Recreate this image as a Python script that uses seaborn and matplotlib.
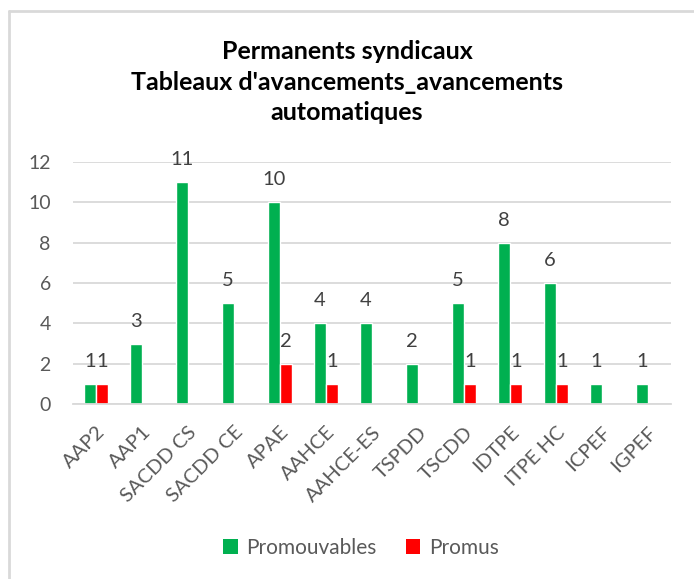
import pandas as pd
import numpy as np

import matplotlib
matplotlib.use("Agg")
import matplotlib.pyplot as plt
from matplotlib.lines import Line2D
from matplotlib.patches import Patch

import seaborn as sns

# data
grades = ["AAP2", "AAP1", "SACDD CS", "SACDD CE", "APAE", "AAHCE", "AAHCE-ES",
          "TSPDD", "TSCDD", "IDTPE", "ITPE HC", "ICPEF", "IGPEF"]
promouvables = [1, 3, 11, 5, 10, 4, 4, 2, 5, 8, 6, 1, 1]
promus = [1, 0, 0, 0, 2, 1, 0, 0, 1, 1, 1, 0, 0]
series = ["Promouvables", "Promus"]
colors = ["#00B050", "#FF0000"]

df = pd.DataFrame({
    "grade": grades * 2,
    "n": promouvables + promus,
    "serie": [series[0]] * len(grades) + [series[1]] * len(grades),
})

sns.set_style("white")
plt.rcParams["font.family"] = ["Lato", "DejaVu Sans"]

fig = plt.figure(figsize=(6.94, 5.79), dpi=100)
ax = fig.add_axes([73 / 694, 1 - 404 / 579, 598 / 694, 242 / 579])

sns.barplot(data=df, x="grade", y="n", hue="serie", palette=colors,
            width=0.52, gap=0.06, saturation=1, legend=False, ax=ax)

# value labels, zeros left out like in the original
for container, vals in zip(ax.containers, [promouvables, promus]):
    labels = ["" if v == 0 else str(v) for v in vals]
    ax.bar_label(container, labels=labels, padding=10, fontsize=14.5,
                 color="#404040", clip_on=False)

ax.set_xlim(-0.5, len(grades) - 0.5)
ax.set_ylim(0, 12)
ax.set_yticks(range(0, 13, 2))
ax.yaxis.grid(True, color="#d9d9d9", linewidth=1.3)
ax.set_axisbelow(True)
for side in ["left", "right", "top"]:
    ax.spines[side].set_visible(False)
ax.spines["bottom"].set_color("#d9d9d9")
ax.spines["bottom"].set_linewidth(1.3)
ax.set_xlabel("")
ax.set_ylabel("")
ax.tick_params(axis="y", length=0, pad=16, labelsize=14, labelcolor="#595959")
ax.tick_params(axis="x", length=0, pad=14, labelsize=14.5, labelcolor="#595959")
plt.setp(ax.get_xticklabels(), rotation=45, ha="right", rotation_mode="anchor")

fig.text(0.5, 1 - 82 / 579,
         "Permanents syndicaux\nTableaux d'avancements_avancements\nautomatiques",
         ha="center", va="center", fontsize=18, fontweight="bold",
         linespacing=1.38, color="black")

handles = [Patch(facecolor=c, edgecolor="none") for c in colors]
fig.legend(handles, series, loc="center", bbox_to_anchor=(0.52, 1 - 548 / 579),
           ncol=2, frameon=False, fontsize=15, handlelength=0.7,
           handleheight=0.7, handletextpad=0.4, columnspacing=1.4,
           labelcolor="#595959")

# chart area border (only left and top visible in the crop)
fig.add_artist(Line2D([9 / 694, 9 / 694], [0, 1 - 11 / 579], color="#d9d9d9", lw=2))
fig.add_artist(Line2D([9 / 694, 1], [1 - 11 / 579, 1 - 11 / 579], color="#d9d9d9", lw=2))

fig.savefig("out.png", dpi=100)
